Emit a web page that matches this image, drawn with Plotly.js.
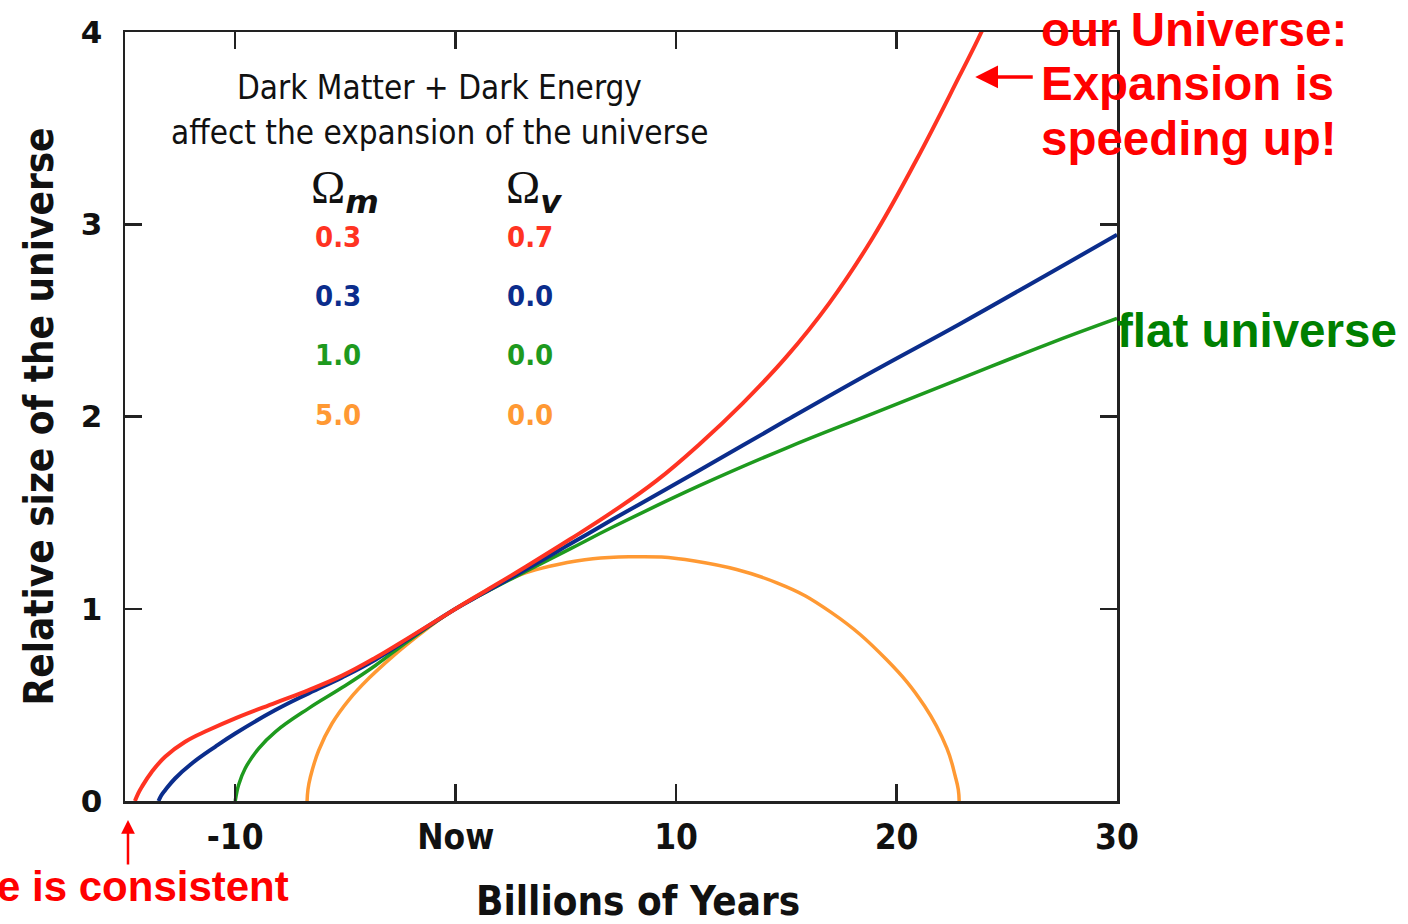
<!DOCTYPE html>
<html>
<head>
<meta charset="utf-8">
<script src="https://cdn.plot.ly/plotly-3.0.1.min.js"></script>
<style>
  html, body { margin: 0; padding: 0; background: #ffffff; }
  #chart { width: 1408px; height: 924px; }
</style>
</head>
<body>
<div id="chart"></div>
<script>
// ---- Data ----
// x: billions of years relative to now, y: relative size of the universe
const redX = [-14.55, -14.40, -14.24, -13.79, -13.18, -12.27, -11.21, -10.0, -8.18, -6.67, -5.15, -3.64, -2.12, 0, 1.24, 3.2, 5.17, 7.13, 9.1, 11.06, 13.03, 15.0, 16.95, 18.92, 20.88, 22.85, 23.85, 24.3];
const redY = [0, 0.04, 0.073, 0.151, 0.23, 0.308, 0.369, 0.43, 0.511, 0.577, 0.652, 0.745, 0.85, 1.0, 1.085, 1.22, 1.36, 1.505, 1.665, 1.856, 2.07, 2.31, 2.59, 2.93, 3.33, 3.77, 4.0, 4.12];

const blueX = [-13.48, -13.35, -13.18, -12.73, -11.97, -10.91, -10.0, -8.18, -6.67, -5.15, -3.64, -2.12, 0, 1.24, 3.2, 5.17, 7.13, 11.06, 15.0, 18.92, 22.85, 26.78, 30.0];
const blueY = [0, 0.03, 0.056, 0.117, 0.195, 0.282, 0.351, 0.473, 0.56, 0.643, 0.735, 0.845, 1.0, 1.08, 1.205, 1.335, 1.465, 1.72, 1.98, 2.234, 2.48, 2.735, 2.945];

const greenX = [-10.0, -9.93, -9.85, -9.55, -8.94, -8.18, -6.67, -5.15, -3.64, -2.12, 0, 1.24, 3.2, 5.17, 7.13, 11.06, 15.0, 18.92, 22.85, 26.78, 30.0];
const greenY = [0, 0.045, 0.082, 0.169, 0.273, 0.36, 0.482, 0.59, 0.705, 0.835, 1.0, 1.078, 1.195, 1.31, 1.425, 1.64, 1.836, 2.015, 2.194, 2.373, 2.51];

const orangeX = [-6.74, -6.70, -6.59, -6.21, -5.61, -4.85, -3.94, -2.88, -1.82, -0.91, 0, 2.16, 4.64, 7.86, 10.84, 14.57, 17.05, 19.53, 21.27, 22.28, 22.66, 22.80, 22.84];
const orangeY = [0, 0.06, 0.125, 0.264, 0.403, 0.525, 0.638, 0.75, 0.85, 0.93, 1.0, 1.14, 1.23, 1.27, 1.248, 1.135, 0.98, 0.737, 0.494, 0.275, 0.13, 0.06, 0];

// legend table (density parameters)
const omegaM = ["0.3", "0.3", "1.0", "5.0"];
const omegaV = ["0.7", "0.0", "0.0", "0.0"];

// tick labels
const xTickVals = [-10, 0, 10, 20, 30];
const xTickText = ["-10", "Now", "10", "20", "30"];
const yTickVals = [0, 1, 2, 3, 4];
const yTickText = ["0", "1", "2", "3", "4"];

// ---- Styles ----
const colors = ["#ff3322", "#0b2d8c", "#1e9a1e", "#ff9933"];
const COND = "DejaVu Sans Condensed, Liberation Sans Narrow, DejaVu Sans, sans-serif";
const BOLDSANS = "Liberation Sans, Arial, sans-serif";

function line(x, y, c, w) {
  return { x: x, y: y, type: "scatter", mode: "lines",
           line: { color: c, width: w, shape: "spline", smoothing: 1.2 },
           hoverinfo: "skip", showlegend: false };
}

const traces = [
  line(orangeX, orangeY, colors[3], 3.5),
  line(greenX, greenY, colors[2], 3.5),
  line(blueX, blueY, colors[1], 4),
  line(redX, redY, colors[0], 4)
];

const rowY = [2.934, 2.627, 2.32, 2.008];
const annotations = [];

// Title text inside the plot
annotations.push({ x: -0.72, y: 3.709, xref: "x", yref: "y", showarrow: false,
  text: "Dark Matter + Dark Energy", font: { family: COND, size: 33, color: "#111" } });
annotations.push({ x: -0.72, y: 3.475, xref: "x", yref: "y", showarrow: false,
  text: "affect the expansion of the universe", font: { family: COND, size: 33, color: "#111" } });

// Omega headers
annotations.push({ x: -5.02, y: 3.17, xref: "x", yref: "y", showarrow: false,
  text: "Ω<sub><span style=\"font-family:DejaVu Sans;font-weight:bold;font-style:italic\">m</span></sub>",
  font: { family: "Liberation Serif, serif", size: 46, color: "#111" } });
annotations.push({ x: 3.57, y: 3.17, xref: "x", yref: "y", showarrow: false,
  text: "Ω<sub><span style=\"font-family:DejaVu Sans;font-weight:bold;font-style:italic\">v</span></sub>",
  font: { family: "Liberation Serif, serif", size: 46, color: "#111" } });

for (let i = 0; i < omegaM.length; i++) {
  annotations.push({ x: -5.34, y: rowY[i], xref: "x", yref: "y", showarrow: false,
    text: omegaM[i], font: { family: COND, size: 29, color: colors[i], weight: 600 } });
  annotations.push({ x: 3.35, y: rowY[i], xref: "x", yref: "y", showarrow: false,
    text: omegaV[i], font: { family: COND, size: 29, color: colors[i], weight: 600 } });
}

// Red comments on the right (paper coords: plot area is 992 x 769 px)
const rightLines = ["our Universe:", "Expansion is", "speeding up!"];
const rightPaperY = [1.0039, 0.9324, 0.8609];
for (let i = 0; i < rightLines.length; i++) {
  annotations.push({ x: 0.9215, y: rightPaperY[i], xref: "paper", yref: "paper",
    xanchor: "left", yanchor: "middle",
    showarrow: false, text: "<b>" + rightLines[i] + "</b>",
    font: { family: BOLDSANS, size: 47.5, color: "#ff0000" } });
}
// arrow pointing at the red curve
annotations.push({ x: 23.57, y: 3.766, xref: "x", yref: "y", ax: 59, ay: 0, text: "",
  showarrow: true, arrowhead: 2, arrowsize: 1.3, arrowwidth: 3.5, arrowcolor: "#ff0000" });

// flat universe label
annotations.push({ x: 0.9975, y: 0.6112, xref: "paper", yref: "paper", xanchor: "left", yanchor: "middle",
  showarrow: false, text: "<b>flat universe</b>",
  font: { family: BOLDSANS, size: 47.5, color: "#008000" } });

// bottom-left comment (cut by the page edge)
annotations.push({ x: 0.1673, y: -0.1118, xref: "paper", yref: "paper", xanchor: "right", yanchor: "middle",
  showarrow: false, text: "<b>e is consistent</b>",
  font: { family: BOLDSANS, size: 42, color: "#ff0000" } });
annotations.push({ x: 0.00302, y: -0.0247, xref: "paper", yref: "paper", ax: 0, ay: 46, text: "",
  showarrow: true, arrowhead: 2, arrowsize: 1.1, arrowwidth: 2.5, arrowcolor: "#ff0000" });

const layout = {
  width: 1408, height: 924,
  margin: { l: 125, r: 291, t: 32, b: 123 },
  paper_bgcolor: "#ffffff", plot_bgcolor: "#ffffff",
  showlegend: false,
  xaxis: {
    range: [-15, 30], tickvals: xTickVals, ticktext: xTickText,
    ticks: "inside", ticklen: 17, tickwidth: 2.5, tickcolor: "#222",
    showline: true, linewidth: 2.5, linecolor: "#222", mirror: "ticks",
    showgrid: false, zeroline: false, ticklabelstandoff: 3,
    tickfont: { family: COND, size: 35, color: "#111", weight: "bold" },
    title: { text: "&nbsp;&nbsp;&nbsp;<b>Billions of Years</b>", standoff: 36,
             font: { family: COND, size: 40, color: "#111" } }
  },
  yaxis: {
    range: [0, 4], tickvals: yTickVals, ticktext: yTickText,
    ticks: "inside", ticklen: 17, tickwidth: 2.5, tickcolor: "#222",
    showline: true, linewidth: 2.5, linecolor: "#222", mirror: "ticks",
    showgrid: false, zeroline: false, ticklabelstandoff: 14,
    tickfont: { family: "DejaVu Sans, sans-serif", size: 31, color: "#111", weight: "bold" },
    title: { text: "<b>Relative size of the universe</b>", standoff: 15,
             font: { family: COND, size: 40, color: "#111" } }
  },
  annotations: annotations
};

Plotly.newPlot("chart", traces, layout, { displayModeBar: false, staticPlot: true });
</script>
</body>
</html>
